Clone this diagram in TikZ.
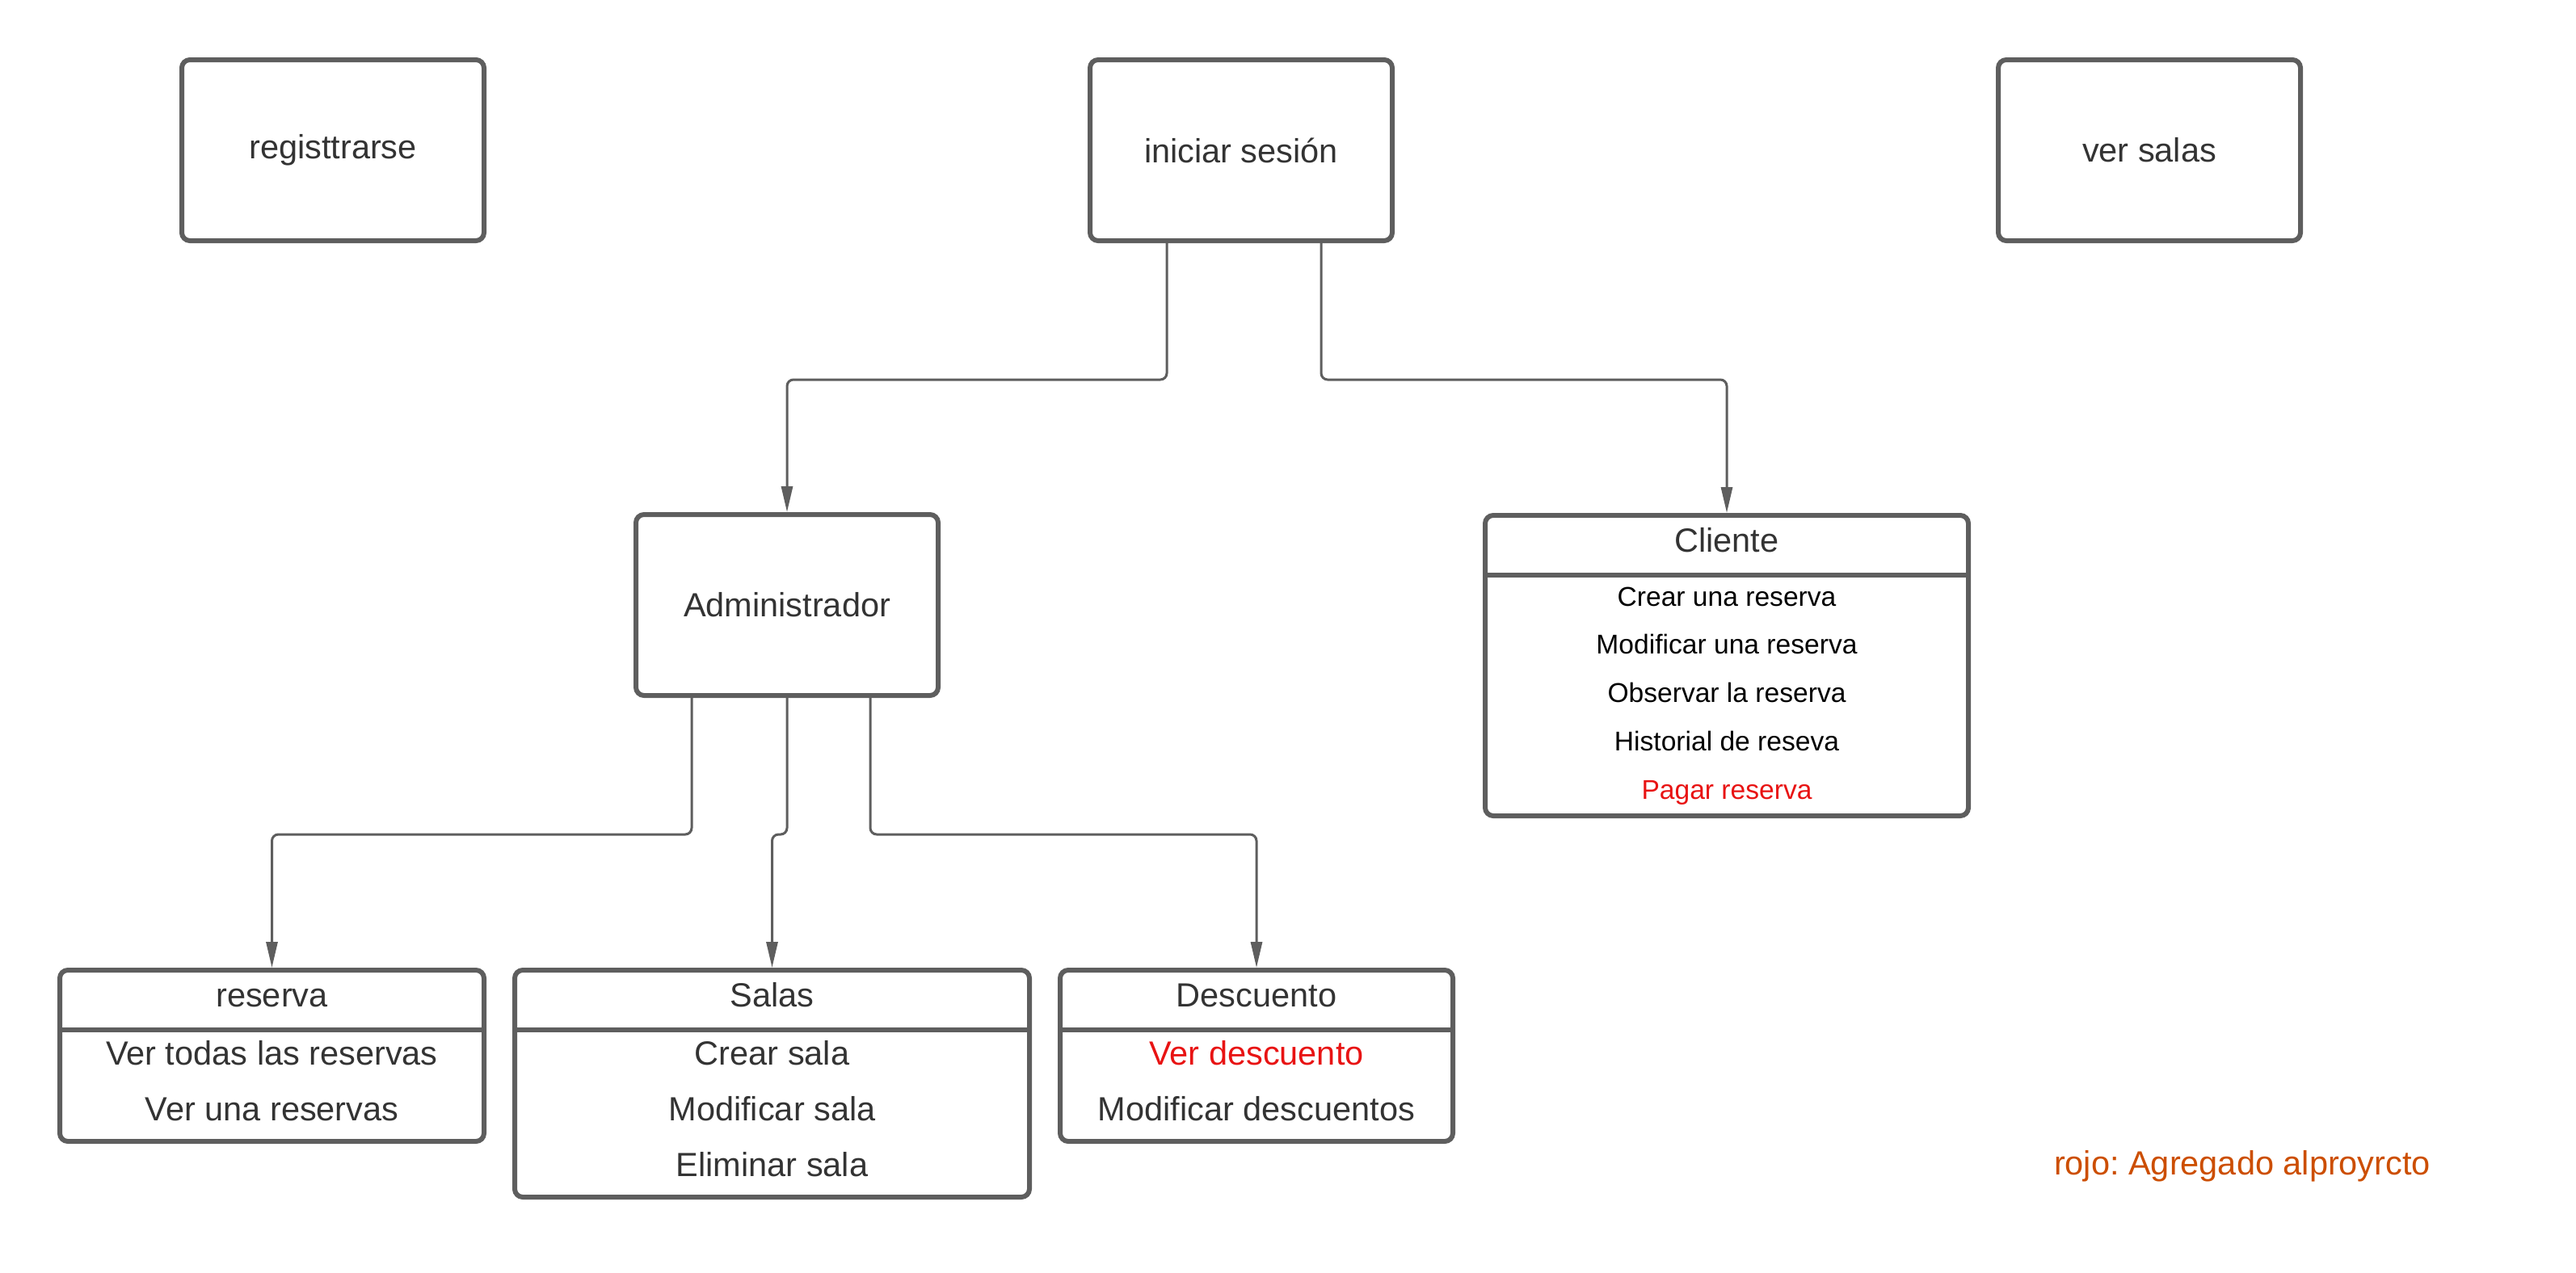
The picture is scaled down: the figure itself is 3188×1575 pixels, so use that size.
\documentclass[tikz,border=0pt]{standalone}
\usepackage{fontspec}
\setmainfont{Liberation Sans}
\usetikzlibrary{positioning,arrows.meta}
\definecolor{edgegray}{HTML}{5E5E5E}
\definecolor{txtgray}{HTML}{333333}
\definecolor{addred}{HTML}{E81313}
\definecolor{noteorange}{HTML}{CC4E00}
\frenchspacing

\begin{document}
\begin{tikzpicture}[x=0.5pt,y=-0.5pt,on grid,node distance=562pt,
    box/.style={draw=edgegray,line width=3pt,rounded corners=5pt,
      minimum width=187pt,minimum height=112pt,text=txtgray,
      font=\fontsize{20.75}{24}\selectfont},
    frame/.style={draw=edgegray,line width=3pt,rounded corners=5pt},
    rule/.style={draw=edgegray,line width=3pt},
    item/.style={text=txtgray,font=\fontsize{20.75}{24}\selectfont,
      text height=15pt,text depth=4.5pt,yshift=-2pt},
    small/.style={text=black,font=\fontsize{16.8}{20}\selectfont,
      text height=12pt,text depth=3.5pt,yshift=-2pt},
    link/.style={draw=edgegray,line width=1.5pt,rounded corners=4pt,
      -{Triangle[length=16pt,width=7pt]}}]
   \useasboundingbox (0,0) rectangle (3188,1575);

   \node[box] (reg) at (412,186) {registtrarse};
   \node[box] (ini) [right=of reg] {iniciar sesión};
   \node[box] (ver) [right=of ini] {ver salas};
   \node[box] (adm) at (974,749) {Administrador};

   % Cliente
   \node[frame,minimum width=299pt,minimum height=186pt] (cli) at (2137,824) {};
   \draw[rule] (cli.west |- 0,712) -- (cli.east |- 0,712);
   \node[item] (cli_t) at (2137,669) {Cliente};
   \node[small] (cli_1) at (2137,738) {Crear una reserva};
   \node[small] (cli_2) at (2137,797) {Modificar una reserva};
   \node[small] (cli_3) at (2137,857) {Observar la reserva};
   \node[small] (cli_4) at (2137,917) {Historial de reseva};
   \node[small,text=addred] (cli_5) at (2137,977) {Pagar reserva};

   % reserva
   \node[frame,minimum width=262.5pt,minimum height=106pt] (res) at (336.5,1307) {};
   \draw[rule] (res.west |- 0,1275) -- (res.east |- 0,1275);
   \node[item] (res_t) at (336.5,1232) {reserva};
   \node[item] (res_1) at (336.5,1304) {Ver todas las reservas};
   \node[item] (res_2) at (336.5,1373) {Ver una reservas};

   % Salas
   \node[frame,minimum width=318.5pt,minimum height=140.5pt] (sal) at (955.5,1341.5) {};
   \draw[rule] (sal.west |- 0,1275) -- (sal.east |- 0,1275);
   \node[item] (sal_t) at (955.5,1232) {Salas};
   \node[item] (sal_1) at (955.5,1304) {Crear sala};
   \node[item] (sal_2) at (955.5,1373) {Modificar sala};
   \node[item] (sal_3) at (955.5,1442) {Eliminar sala};

   % Descuento
   \node[frame,minimum width=243pt,minimum height=106pt] (des) at (1555,1307) {};
   \draw[rule] (des.west |- 0,1275) -- (des.east |- 0,1275);
   \node[item] (des_t) at (1555,1232) {Descuento};
   \node[item,text=addred] (des_1) at (1555,1304) {Ver descuento};
   \node[item] (des_2) at (1555,1373) {Modificar descuentos};

   \node[item,text=noteorange] (note) at (2775,1440) {rojo: Agregado alproyrcto};

    \path[link]
    ([xshift=-46pt]ini.south) -- ++(0,-84.5pt) -| (adm.north);
    \path[link]
    ([xshift=49.5pt]ini.south) -- ++(0,-84.5pt) -| (cli.north);
    \path[link]
    ([xshift=-59pt]adm.south) -- ++(0,-84.5pt) -| (res.north);
    \path[link]
    (adm.south) -- ++(0,-84.5pt) -| (sal.north);
    \path[link]
    ([xshift=51.5pt]adm.south) -- ++(0,-84.5pt) -| (des.north);
\end{tikzpicture}
\end{document}
